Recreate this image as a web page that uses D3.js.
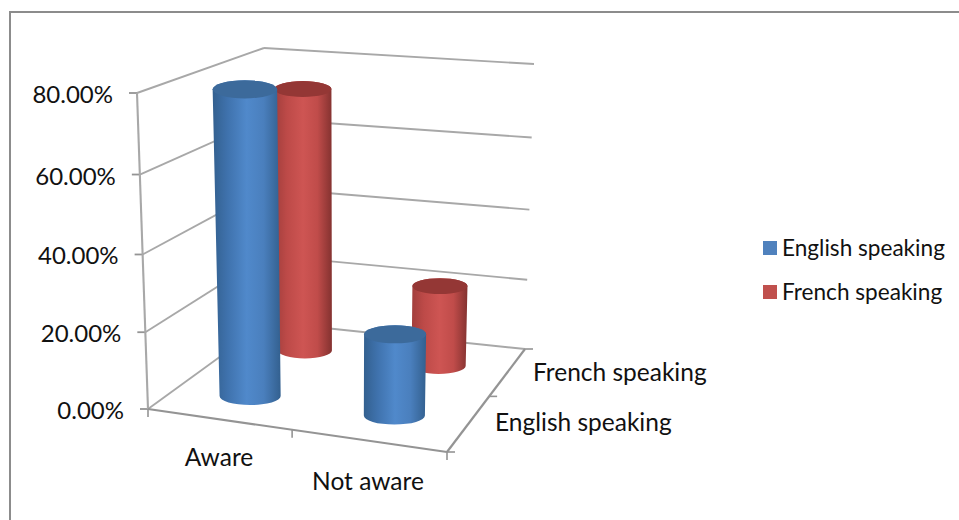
<!DOCTYPE html>
<html><head><meta charset="utf-8">
<script src="https://cdnjs.cloudflare.com/ajax/libs/d3/7.8.5/d3.min.js"></script>
<style>html,body{margin:0;padding:0;background:#fff}svg{display:block}text{font-family:Lato,"Open Sans",sans-serif;fill:#111}</style>
</head><body><svg id="c" width="959" height="520"></svg>
<script>
const categories = ["Aware", "Not aware"];
const seriesNames = ["English speaking", "French speaking"];
const englishValues = [79.8, 21.5];
const frenchValues = [73.3, 22.7];
const valueTicks = [0, 20, 40, 60, 80];
const tickLabels = ["0.00%", "20.00%", "40.00%", "60.00%", "80.00%"];
const svg = d3.select("#c");
const defs = svg.append("defs");
svg.append("path").attr("d","M10,520 L10,12 L959,12").attr("fill","none").attr("stroke","#8c8c8c").attr("stroke-width",2);

// bilinear chart-space projection
const catU = d3.scaleBand().domain(categories).range([0,1]);
const serV = d3.scaleBand().domain(seriesNames).range([0,1]);
const valT = d3.scaleLinear().domain(valueTicks).range([0,.243,.489,.742,1]);
const floorC = {fl:[148,409],fr:[447,452],bl:[268,322],br:[525,349]};
const topC  = {fl:[137,93],fr:[453,124],bl:[264,48],br:[534,64]};
const bil=(c,u,v)=>[0,1].map(i=>(1-v)*((1-u)*c.fl[i]+u*c.fr[i])+v*((1-u)*c.bl[i]+u*c.br[i]));
const P=(u,v,val)=>{const a=bil(floorC,u,v),b=bil(topC,u,v),t=valT(val);return [a[0]+(b[0]-a[0])*t,a[1]+(b[1]-a[1])*t];};
const line=d3.line();
const gridC="#a8a8a8", axisC="#949494";
const wall=svg.append("g").attr("fill","none");
function seg(a,b,col,w){wall.append("path").attr("d",line([a,b])).attr("stroke",col).attr("stroke-width",w);}
// wall gridlines
valueTicks.forEach(t=>{
  const lf=P(0,0,t), lb=P(0,1,t), rb=P(1,1,t);
  seg(lf,lb,gridC,1.9); seg(lb,rb,gridC,1.9);
  seg([lf[0]-8,lf[1]],lf,axisC,1.8);
});
// axes frame
seg(P(0,0,0),P(0,0,80),gridC,2.1);
seg(P(0,0,0),P(1,0,0),axisC,2.2);
seg(P(1,0,0),P(1,1,0),axisC,2.2);
// ticks
[0,.482,1].forEach(u=>{const p=P(u,0,0);seg(p,[p[0],p[1]+8],axisC,1.6);});
[0,.54,1].forEach(v=>{const p=P(1,v,0);seg(p,[p[0]+8,p[1]],axisC,1.6);});

// cylinders
const grads={
  e:{id:"gE",stops:["#33608f","#3f72ad","#5089cb","#4a7fbd","#33608f"],top:"#3c6a9b"},
  f:{id:"gF",stops:["#a13e3c","#bd4a48","#ce5553","#c04c4a","#843230"],top:"#943735"}
};
Object.values(grads).forEach(g=>{
  const lg=defs.append("linearGradient").attr("id",g.id).attr("x1",0).attr("x2",1).attr("y1",0).attr("y2",0);
  g.stops.forEach((c,i)=>lg.append("stop").attr("offset",[0,.22,.5,.75,1][i]).attr("stop-color",c));
});
const rxS=d3.scaleLinear().domain([0,1]).range([32.3,25.3]);
const ryS=d3.scaleLinear().domain([0,1]).range([9.6,7.4]);
const rxVal=d3.scaleLinear().domain([0,80]).range([0,1.7]);
const bars=[];
seriesNames.forEach((s,si)=>categories.forEach((c,ci)=>{
  bars.push({c,s,key:si?"f":"e",val:(si?frenchValues:englishValues)[ci],u:catU(c)+catU.bandwidth()/2,v:serV(s)+serV.bandwidth()/2});
}));
bars.sort((a,b)=>b.v-a.v||a.u-b.u);
const gB=svg.append("g");
bars.forEach(b=>{
  const p0=P(b.u,b.v,0), p1=P(b.u,b.v,b.val);
  const r0=rxS(b.v), r1=r0+rxVal(b.val), ry=ryS(b.v);
  const g=grads[b.key];
  gB.append("path").attr("fill",`url(#${g.id})`).attr("d",
    `M${p1[0]-r1},${p1[1]} L${p0[0]-r0},${p0[1]-1} A${r0},${ry} 0 0 0 ${p0[0]+r0},${p0[1]-1} L${p1[0]+r1},${p1[1]} A${r1},${ry} 0 0 0 ${p1[0]-r1},${p1[1]} Z`);
  gB.append("ellipse").attr("cx",p1[0]).attr("cy",p1[1]).attr("rx",r1).attr("ry",ry).attr("fill",g.top);
});

// labels
valueTicks.forEach((t,i)=>{const p=P(0,0,t);
  svg.append("text").attr("x",p[0]-24).attr("y",p[1]+10).attr("text-anchor","end").attr("font-size",24).text(tickLabels[i]);});
const catPos=[[219,466],[368,490]];
categories.forEach((c,i)=>svg.append("text").attr("x",catPos[i][0]).attr("y",catPos[i][1]).attr("text-anchor","middle").attr("font-size",24.5).text(c));
const serPos=[[495,431],[533,381]];
seriesNames.forEach((s,i)=>svg.append("text").attr("x",serPos[i][0]).attr("y",serPos[i][1]).attr("font-size",24.5).text(s));
const legY=[248,292], legColor=["#4f81bd","#c0504d"];
seriesNames.forEach((s,i)=>{
  svg.append("rect").attr("x",763).attr("y",legY[i]-7).attr("width",14).attr("height",14).attr("fill",legColor[i]);
  svg.append("text").attr("x",782).attr("y",legY[i]+8).attr("font-size",22.6).text(s);
});
</script></body></html>
